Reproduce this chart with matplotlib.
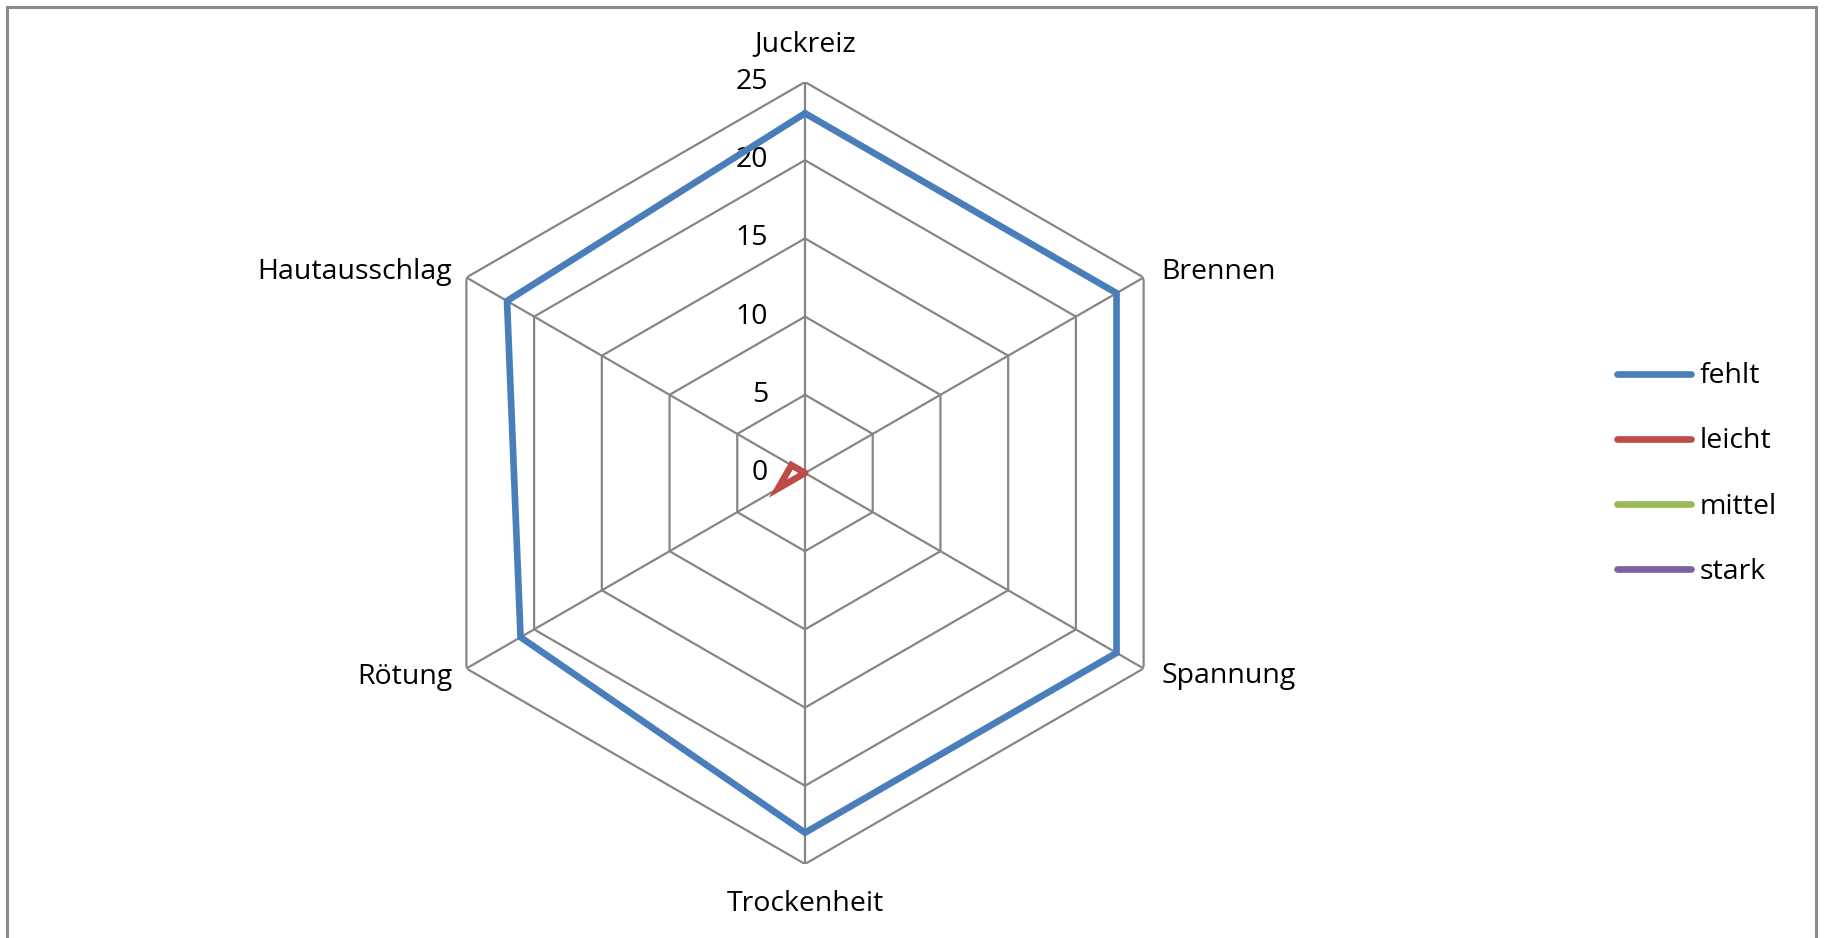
import numpy as np
import matplotlib.pyplot as plt
from matplotlib.patches import Rectangle

plt.rcParams['font.family'] = ['Open Sans', 'DejaVu Sans']

# data
categories = ['Juckreiz', 'Brennen', 'Spannung', 'Trockenheit', 'Rötung', 'Hautausschlag']
fehlt = [23, 23, 23, 23, 21, 22]
leicht = [0, 0, 0, 0, 2, 1]
mittel = [0, 0, 0, 0, 0, 0]
stark = [0, 0, 0, 0, 0, 0]
series_names = ['fehlt', 'leicht', 'mittel', 'stark']
series_colors = ['#4A7EBB', '#BE4B48', '#98B954', '#7D60A0']
r_ticks = [0, 5, 10, 15, 20, 25]

grid_color = '#868686'
fs = 20.5
W, H = 1825, 938
fig = plt.figure(figsize=(W / 100, H / 100), dpi=100)

# outer chart frame
fig.patches.append(Rectangle((7 / W, -0.05), (1816 - 7) / W, 1.05 - 7 / H,
                             transform=fig.transFigure, fill=False,
                             edgecolor='#8C8C8C', linewidth=2.2))

cx, cy, rad = 805, 473, 391
ax = fig.add_axes([(cx - rad) / W, (H - cy - rad) / H, 2 * rad / W, 2 * rad / H],
                  projection='polar')
ax.set_theta_offset(np.pi / 2)
ax.set_theta_direction(-1)
ax.set_ylim(0, 25)
ax.grid(False)
ax.spines['polar'].set_visible(False)
ax.set_xticks([])
ax.set_yticks([])
ax.patch.set_alpha(0)

n = len(categories)
angles = np.arange(n) * 2 * np.pi / n
closed = np.append(angles, angles[0])

# hexagon rings and spokes
for r in r_ticks[1:]:
    ax.plot(closed, [r] * (n + 1), color=grid_color, lw=1.6, zorder=1)
for a in angles:
    ax.plot([a, a], [0, r_ticks[-1]], color=grid_color, lw=1.6, zorder=1)

# radial tick labels
for r in r_ticks:
    ax.annotate(str(r), (0, r), xytext=(-37, 0), textcoords='offset pixels',
                ha='right', va='center', fontsize=fs)

# category labels
offsets = [(0, 24, 'center', 'bottom'), (18, 6, 'left', 'center'),
           (18, -8, 'left', 'center'), (0, -26, 'center', 'top'),
           (-14, -8, 'right', 'center'), (-14, 6, 'right', 'center')]
for a, lab, (dx, dy, ha, va) in zip(angles, categories, offsets):
    ax.annotate(lab, (a, r_ticks[-1]), xytext=(dx, dy), textcoords='offset pixels',
                ha=ha, va=va, fontsize=fs)

# series
for vals, name, col in zip([fehlt, leicht, mittel, stark], series_names, series_colors):
    ax.plot(closed, vals + vals[:1], color=col, lw=4.8, label=name, zorder=3,
            solid_joinstyle='miter', solid_capstyle='round')

fig.legend(loc='center left', bbox_to_anchor=(1606 / W, 1 - 474 / H), frameon=False,
           fontsize=fs, handlelength=2.6, handletextpad=0.3, labelspacing=1.3,
           borderaxespad=0)

fig.savefig('out.png', dpi=100)
